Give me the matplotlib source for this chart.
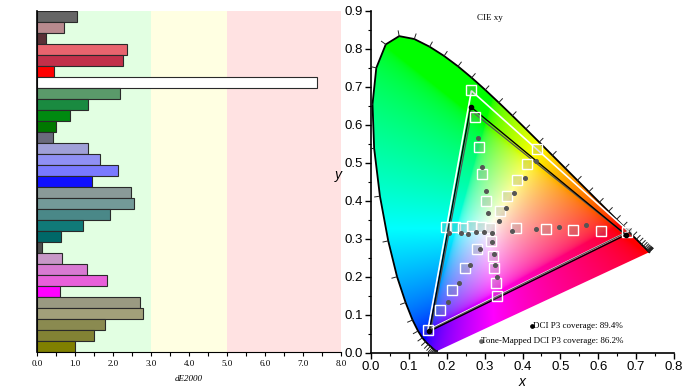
import numpy as np
import matplotlib
matplotlib.use('Agg')
import matplotlib.pyplot as plt
from matplotlib.patches import Polygon

# ---- left panel data (top to bottom) ----
de_values = [1.05, 0.72, 0.23, 2.36, 2.27, 0.46, 7.36, 2.19, 1.34, 0.86, 0.49,
             0.41, 1.33, 1.67, 2.13, 1.44, 2.48, 2.55, 1.92, 1.20, 0.63, 0.12,
             0.65, 1.31, 1.85, 0.61, 2.71, 2.80, 1.80, 1.49, 1.00]
bar_colors = ['#666666', '#b88a8e', '#5a3036', '#e8646e', '#c2304a', '#ff0000', '#ffffff',
              '#5a9a6a', '#1a8a40', '#008a10', '#007800',
              '#6a6a7c', '#a0a0d8', '#9090f4', '#7a7aff', '#1010ff',
              '#8a9a98', '#739a98', '#4a8888', '#107a78', '#006868', '#505050',
              '#c898c8', '#d87ad2', '#e860da', '#ff00ff',
              '#9a9a82', '#a2a07a', '#8a8a50', '#828234', '#808000']
zones = [(0, 3, '#e2ffe2'), (3, 5, '#ffffe2'), (5, 8, '#ffe2e2')]

# ---- CIE 1931 spectral locus, 380-700 nm every 5 nm ----
locus_x = [0.1741, 0.1740, 0.1738, 0.1736, 0.1733, 0.1730, 0.1726, 0.1721, 0.1714, 0.1703,
           0.1689, 0.1669, 0.1644, 0.1611, 0.1566, 0.1510, 0.1440, 0.1355, 0.1241, 0.1096,
           0.0913, 0.0687, 0.0454, 0.0235, 0.0082, 0.0039, 0.0139, 0.0389, 0.0743, 0.1142,
           0.1547, 0.1929, 0.2296, 0.2658, 0.3016, 0.3373, 0.3731, 0.4087, 0.4441, 0.4788,
           0.5125, 0.5448, 0.5752, 0.6029, 0.6270, 0.6482, 0.6658, 0.6801, 0.6915, 0.7006,
           0.7079, 0.7140, 0.7190, 0.7230, 0.7260, 0.7283, 0.7300, 0.7311, 0.7320, 0.7327,
           0.7334, 0.7340, 0.7344, 0.7346, 0.7347]
locus_y = [0.0050, 0.0050, 0.0049, 0.0049, 0.0048, 0.0048, 0.0048, 0.0048, 0.0051, 0.0058,
           0.0069, 0.0086, 0.0109, 0.0138, 0.0177, 0.0227, 0.0297, 0.0399, 0.0578, 0.0868,
           0.1327, 0.2007, 0.2950, 0.4127, 0.5384, 0.6548, 0.7502, 0.8120, 0.8338, 0.8262,
           0.8059, 0.7816, 0.7543, 0.7243, 0.6923, 0.6589, 0.6245, 0.5896, 0.5547, 0.5202,
           0.4866, 0.4544, 0.4242, 0.3965, 0.3725, 0.3514, 0.3340, 0.3197, 0.3083, 0.2993,
           0.2920, 0.2859, 0.2809, 0.2770, 0.2740, 0.2717, 0.2700, 0.2689, 0.2680, 0.2673,
           0.2666, 0.2660, 0.2656, 0.2654, 0.2653]

# ---- gamut triangles (R, G, B) ----
target_tri_x = [0.680, 0.265, 0.150]
target_tri_y = [0.320, 0.690, 0.060]
measured_tri_x = [0.673, 0.263, 0.154]
measured_tri_y = [0.311, 0.648, 0.057]
tonemap_tri_x = [0.668, 0.266, 0.158]
tonemap_tri_y = [0.314, 0.636, 0.062]

# target squares
target_x = [0.264, 0.275, 0.285, 0.294, 0.304,
            0.341, 0.358, 0.385, 0.412, 0.437,
            0.198, 0.222, 0.244, 0.267, 0.291, 0.313,
            0.384, 0.462, 0.532, 0.606, 0.675,
            0.317, 0.323, 0.325, 0.329, 0.333,
            0.281, 0.247, 0.214, 0.182, 0.150]
target_y = [0.692, 0.620, 0.543, 0.470, 0.400,
            0.373, 0.413, 0.455, 0.497, 0.537,
            0.332, 0.331, 0.329, 0.334, 0.331, 0.329,
            0.328, 0.327, 0.324, 0.321, 0.318,
            0.295, 0.256, 0.223, 0.185, 0.150,
            0.273, 0.223, 0.167, 0.113, 0.061]
# measured dots
meas_x = [0.283, 0.292, 0.303, 0.309, 0.407, 0.435, 0.378, 0.356, 0.338,
          0.371, 0.436, 0.496, 0.567,
          0.207, 0.237, 0.257, 0.278, 0.299, 0.319,
          0.319, 0.289, 0.325, 0.261, 0.327, 0.333, 0.232, 0.204]
meas_y = [0.567, 0.490, 0.425, 0.368, 0.461, 0.504, 0.422, 0.382, 0.348,
          0.320, 0.326, 0.332, 0.337,
          0.315, 0.315, 0.312, 0.318, 0.318, 0.315,
          0.291, 0.273, 0.261, 0.231, 0.232, 0.201, 0.183, 0.133]

coverage_labels = ['DCI P3 coverage: 89.4%', 'Tone-Mapped DCI P3 coverage: 86.2%']

serif = ['Liberation Serif', 'DejaVu Serif']
sans = ['Liberation Sans', 'DejaVu Sans']

fig = plt.figure(figsize=(6.93, 3.9), dpi=100)

# ================= left: dE2000 bars =================
ax1 = fig.add_axes([0.0534, 0.0974, 0.4387, 0.8744])
for x0, x1, c in zones:
    ax1.axvspan(x0, x1, color=c, lw=0, zorder=0)
ypos = np.arange(len(de_values))[::-1]
ax1.barh(ypos, de_values, height=1.0, color=bar_colors, edgecolor='#2a2a2a', linewidth=0.8, zorder=2)
ax1.set_xlim(0, 8)
ax1.set_ylim(-0.5, len(de_values) - 0.5)
ax1.set_yticks([])
ax1.set_xticks(np.arange(0, 9, 1))
ax1.set_xticks(np.arange(0, 8.5, 0.5), minor=True)
ax1.set_xticklabels(['%.1f' % v for v in range(9)], fontfamily=serif, fontsize=6.5)
ax1.tick_params(axis='x', which='both', length=3, width=0.8, pad=3)
ax1.set_xlabel('dE2000', fontfamily=serif, fontstyle='italic', fontsize=6.5, labelpad=5)
for s in ['top', 'right']:
    ax1.spines[s].set_visible(False)
ax1.spines['left'].set_linewidth(1.2)

# ================= right: CIE xy =================
ax2 = fig.add_axes([0.5354, 0.0949, 0.4372, 0.877])
ax2.set_xlim(0, 0.8)
ax2.set_ylim(0, 0.9)

# colour fill of the horseshoe
gx, gy = np.meshgrid(np.linspace(0, 0.8, 500), np.linspace(0.0005, 0.9, 560))
gyc = np.maximum(gy, 1e-3)
X = gx / gyc
Y = np.ones_like(gx)
Z = (1 - gx - gy) / gyc
M = np.array([[3.2406, -1.5372, -0.4986],
              [-0.9689, 1.8758, 0.0415],
              [0.0557, -0.2040, 1.0570]])
rgb = np.einsum('ij,jkl->kli', M, np.stack([X, Y, Z]))
rgb = np.clip(rgb, 0, None)
rgb = rgb / np.maximum(rgb.max(axis=2, keepdims=True), 1e-9)
rgb = np.where(rgb <= 0.0031308, 12.92 * rgb, 1.055 * rgb ** (1 / 2.4) - 0.055)
rgb = np.clip(rgb, 0, 1)
im = ax2.imshow(rgb, extent=[0, 0.8, 0.0005, 0.9], origin='lower', aspect='auto',
                interpolation='bilinear', zorder=0)
horseshoe = Polygon(np.column_stack([locus_x, locus_y]), closed=True, transform=ax2.transData,
                    facecolor='none', edgecolor='none')
ax2.add_patch(horseshoe)
im.set_clip_path(horseshoe)
ax2.plot(locus_x, locus_y, color='black', lw=1.3, zorder=3)

# wavelength ticks along the locus (outward normal)
lx = np.array(locus_x)
ly = np.array(locus_y)
cx, cy = 0.33, 0.33
for i in range(1, len(lx) - 1):
    tx = lx[i + 1] - lx[i - 1]
    ty = ly[i + 1] - ly[i - 1]
    n = np.hypot(tx, ty)
    if n < 1e-6:
        tx, ty, n = lx[-1] - lx[0], ly[-1] - ly[0], np.hypot(lx[-1] - lx[0], ly[-1] - ly[0])
    nx, ny = ty / n, -tx / n
    if (lx[i] - cx) * nx + (ly[i] - cy) * ny < 0:
        nx, ny = -nx, -ny
    L = 0.014
    ax2.plot([lx[i], lx[i] + nx * L], [ly[i], ly[i] + ny * L], color='#222222', lw=0.7, zorder=3)

# triangles
ax2.fill(target_tri_x, target_tri_y, facecolor='none', edgecolor='white', lw=1.2, zorder=4)
ax2.fill(tonemap_tri_x, tonemap_tri_y, facecolor='none', edgecolor='#555555', lw=0.9, zorder=4)
ax2.fill(measured_tri_x, measured_tri_y, facecolor='none', edgecolor='black', lw=1.0, zorder=5)

ax2.plot(target_x, target_y, 's', markersize=6.5, markerfacecolor=(0.55, 0.55, 0.55, 0.25),
         markeredgecolor='white', markeredgewidth=1.0, zorder=6)
ax2.plot(meas_x, meas_y, 'o', markersize=2.6, color='#555555', zorder=7)
ax2.plot(measured_tri_x, measured_tri_y, 'o', markersize=3, color='black', zorder=7)

ax2.text(0.315, 0.882, 'CIE xy', fontfamily=serif, fontsize=6.5, ha='center', va='center')
ax2.plot([0.424], [0.071], 'o', color='black', markersize=2.4)
ax2.text(0.665, 0.071, coverage_labels[0], fontfamily=serif, fontsize=6.5, ha='right', va='center')
ax2.plot([0.290], [0.032], 'o', color='#666666', markersize=2.4)
ax2.text(0.665, 0.032, coverage_labels[1], fontfamily=serif, fontsize=6.5, ha='right', va='center')

ax2.set_xticks(np.arange(0, 0.81, 0.1))
ax2.set_yticks(np.arange(0, 0.91, 0.1))
ax2.set_xticks(np.arange(0, 0.81, 0.05), minor=True)
ax2.set_yticks(np.arange(0, 0.91, 0.05), minor=True)
ax2.set_xticklabels(['%.1f' % v for v in np.arange(0, 0.81, 0.1)], fontfamily=sans, fontsize=9.5)
ax2.set_yticklabels(['%.1f' % v for v in np.arange(0, 0.91, 0.1)], fontfamily=sans, fontsize=9.5)
ax2.tick_params(which='major', length=4, width=1.0, pad=2)
ax2.tick_params(which='minor', length=2.5, width=0.8)
ax2.set_xlabel('x', fontfamily=sans, fontstyle='italic', fontsize=10, labelpad=1)
ax2.set_ylabel('y', fontfamily=sans, fontstyle='italic', fontsize=10, labelpad=4, rotation=0)
for s in ['top', 'right']:
    ax2.spines[s].set_visible(False)
ax2.spines['left'].set_linewidth(1.2)
ax2.spines['bottom'].set_linewidth(1.2)

fig.savefig('out.png', dpi=100)
